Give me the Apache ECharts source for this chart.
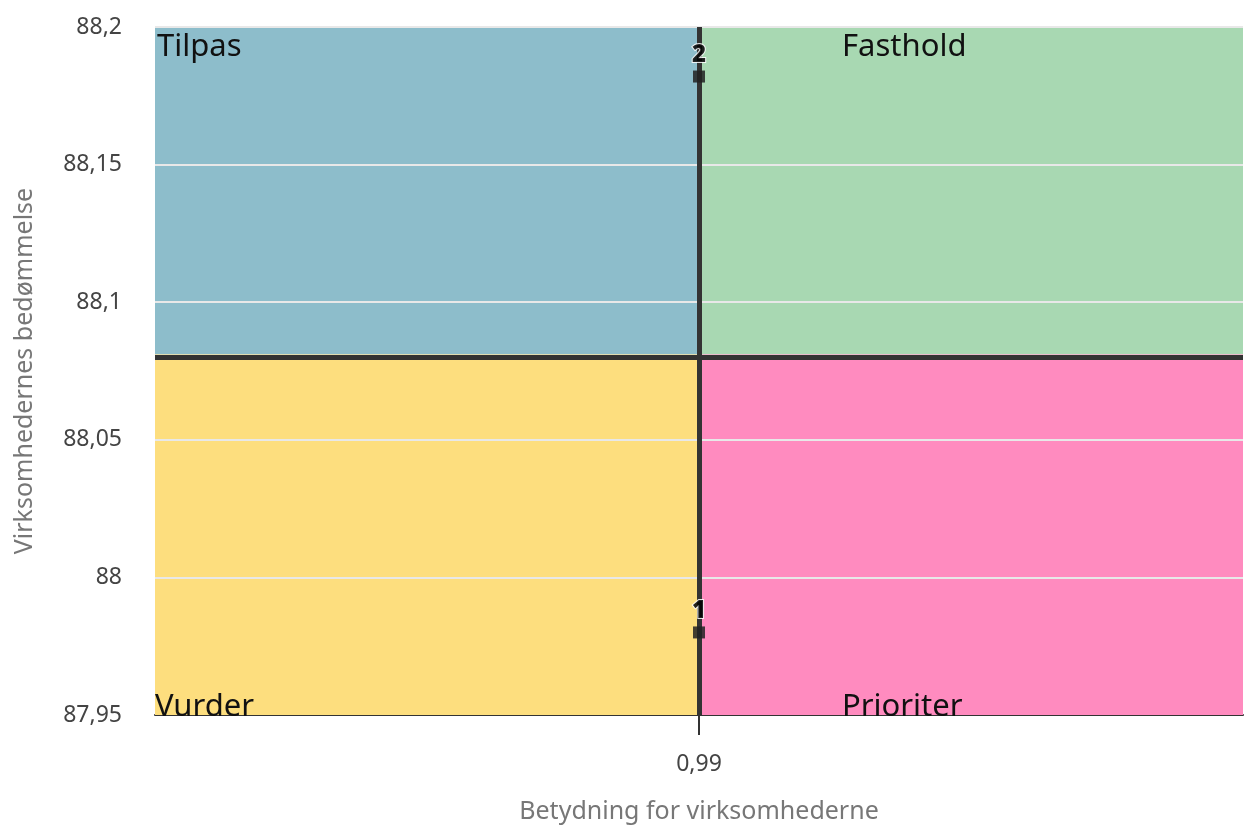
<!DOCTYPE html>
<html>
<head>
<meta charset="utf-8">
<script src="https://cdn.jsdelivr.net/npm/echarts@6/dist/echarts.min.js"></script>
<style>html,body{margin:0;padding:0;background:#fff}#c{width:1247px;height:829px}</style>
</head>
<body>
<div id="c"></div>
<script>
const pointLabels = ['1', '2'];
const xValues = [0.99, 0.99];
const yValues = [87.98, 88.182];
const xMin = 0.98, xMax = 1.0, xTicks = [0.99];
const yMin = 87.95, yMax = 88.2, yInterval = 0.05;
const yGrid = [88, 88.05, 88.1, 88.15, 88.2];
const xThreshold = 0.99;
const yThreshold = 88.081;
const quadrantNames = ['Tilpas', 'Fasthold', 'Vurder', 'Prioriter'];
const quadrantColors = ['#8DBDCB', '#A8D8B2', '#FDDE7E', '#FF8BBF'];
const xTitle = 'Betydning for virksomhederne';
const yTitle = 'Virksomhedernes bedømmelse';

const FONT = 'Noto Sans';
const fmt = v => String(+v.toFixed(3)).replace('.', ',');
const qLabel = (pos) => ({
  show: true, position: pos, color: '#111', fontSize: 31, fontFamily: FONT,
  align: 'left', verticalAlign: 'middle'
});
const chart = echarts.init(document.getElementById('c'));
chart.setOption({
  animation: false,
  grid: { left: 155, right: 4, top: 27, bottom: 114, containLabel: false, outerBoundsMode: 'none' },
  xAxis: {
    type: 'value', min: xMin, max: xMax,
    name: xTitle, nameLocation: 'middle', nameGap: 84,
    nameTextStyle: { color: '#777', fontSize: 25, fontFamily: FONT },
    axisLine: { show: true, onZero: false, lineStyle: { color: '#333', width: 2 } },
    axisTick: { show: true, customValues: xTicks, length: 20, lineStyle: { color: '#333', width: 2 } },
    axisLabel: { customValues: xTicks, formatter: fmt, color: '#444', fontSize: 23, fontFamily: FONT, margin: 38 },
    splitLine: { show: false }
  },
  yAxis: {
    type: 'value', min: yMin, max: yMax, interval: yInterval,
    name: yTitle, nameLocation: 'middle', nameGap: 118,
    nameTextStyle: { color: '#777', fontSize: 25, fontFamily: FONT },
    axisLine: { show: false }, axisTick: { show: false },
    axisLabel: { formatter: fmt, color: '#444', fontSize: 23, fontFamily: FONT, margin: 33 },
    splitLine: { show: false }
  },
  series: [
    {
      type: 'scatter', data: [], z: 0, silent: true,
      markArea: {
        silent: true,
        data: [
          [{ xAxis: xMin, yAxis: yThreshold, itemStyle: { color: quadrantColors[0] }, label: qLabel([2, 20]), name: quadrantNames[0] }, { xAxis: xThreshold, yAxis: yMax }],
          [{ xAxis: xThreshold, yAxis: yThreshold, itemStyle: { color: quadrantColors[1] }, label: qLabel([143, 20]), name: quadrantNames[1] }, { xAxis: xMax, yAxis: yMax }],
          [{ xAxis: xMin, yAxis: yMin, itemStyle: { color: quadrantColors[2] }, label: qLabel([0, 353]), name: quadrantNames[2] }, { xAxis: xThreshold, yAxis: yThreshold }],
          [{ xAxis: xThreshold, yAxis: yMin, itemStyle: { color: quadrantColors[3] }, label: qLabel([143, 353]), name: quadrantNames[3] }, { xAxis: xMax, yAxis: yThreshold }]
        ]
      }
    },
    {
      type: 'scatter', data: [], z: 1, silent: true,
      markLine: {
        silent: true, symbol: 'none', label: { show: false },
        lineStyle: { color: '#e8e8e8', type: 'solid', width: 2 },
        data: yGrid.map(v => ({ yAxis: v }))
      }
    },
    {
      type: 'scatter', data: [], z: 2, silent: true,
      markLine: {
        silent: true, symbol: 'none', label: { show: false },
        lineStyle: { color: '#333', type: 'solid', width: 5 },
        data: [{ xAxis: xThreshold }, { yAxis: yThreshold }]
      }
    },
    {
      type: 'scatter', z: 5,
      data: xValues.map((x, i) => ({ value: [x, yValues[i]], name: pointLabels[i] })),
      symbol: 'rect', symbolSize: 12,
      itemStyle: { color: '#222', opacity: 0.85 },
      label: {
        show: true, position: 'top', distance: 3, formatter: p => p.name,
        color: '#000', fontWeight: 900, fontSize: 24, fontFamily: FONT,
        textBorderColor: '#fff', textBorderWidth: 2
      }
    }
  ]
});
</script>
</body>
</html>
